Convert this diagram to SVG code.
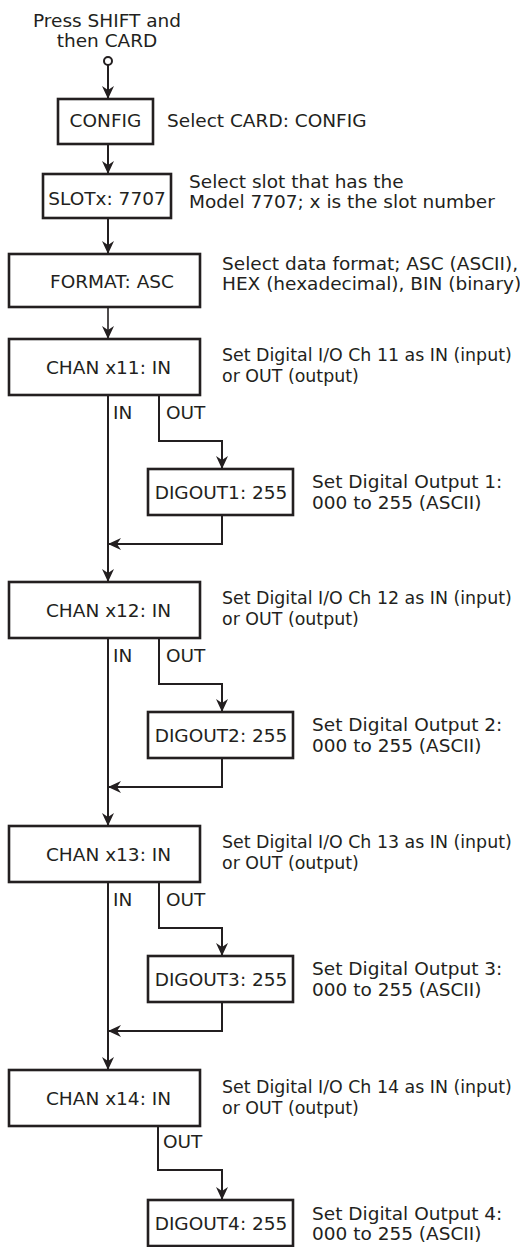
<svg xmlns="http://www.w3.org/2000/svg" width="520" height="1247" viewBox="0 0 520 1247">
<style>
text{font-family:"DejaVu Sans","Liberation Sans",sans-serif;font-size:18.5px;fill:#231f20}
.c{text-anchor:middle}
.s{font-size:17.4px}
.box{fill:#fff;stroke:#231f20;stroke-width:2.6}
.ln{fill:none;stroke:#231f20;stroke-width:2}
.thin{stroke-width:1.6}
</style>
<defs>
<marker id="ah" viewBox="0 0 13 13" refX="13" refY="6.5" markerWidth="13" markerHeight="13" markerUnits="userSpaceOnUse" orient="auto">
<path d="M0,0.5 L13,6.5 L0,12.5 L4,6.5 Z" fill="#231f20"/>
</marker>
</defs>
<rect width="520" height="1247" fill="#fff"/>
<g id="connectors">
<path class="ln" d="M108,65 V99" marker-end="url(#ah)"/>
<path class="ln" d="M108,144 V174" marker-end="url(#ah)"/>
<path class="ln" d="M108,218 V254" marker-end="url(#ah)"/>
<path class="ln thin" d="M108,307 V339" marker-end="url(#ah)"/>
<path class="ln" d="M108,395 V582" marker-end="url(#ah)"/>
<path class="ln" d="M159,395 V441 H222 V469" marker-end="url(#ah)"/>
<path class="ln" d="M222,515 V544 H108" marker-end="url(#ah)"/>
<path class="ln" d="M108,638 V826" marker-end="url(#ah)"/>
<path class="ln" d="M159,638 V684 H222 V712" marker-end="url(#ah)"/>
<path class="ln" d="M222,758 V787 H108" marker-end="url(#ah)"/>
<path class="ln" d="M108,882 V1070" marker-end="url(#ah)"/>
<path class="ln" d="M159,882 V928 H222 V956" marker-end="url(#ah)"/>
<path class="ln" d="M222,1002 V1031 H108" marker-end="url(#ah)"/>
<path class="ln" d="M158,1126 V1170 H222 V1200" marker-end="url(#ah)"/>
<text x="113" y="419">IN</text>
<text x="166" y="419">OUT</text>
<text x="113" y="662">IN</text>
<text x="166" y="662">OUT</text>
<text x="113" y="906">IN</text>
<text x="166" y="906">OUT</text>
<text x="163" y="1148">OUT</text>
</g>
<g id="n-start">
<text class="c" x="107" y="27">Press SHIFT and</text>
<text class="c" x="107" y="47">then CARD</text>
<circle cx="108" cy="61" r="4" fill="#fff" stroke="#231f20" stroke-width="2"/>
</g>
<g id="n-config">
<rect class="box" x="58" y="99" width="95" height="45"/>
<text class="c" x="105.5" y="127">CONFIG</text>
<text x="167" y="127">Select CARD: CONFIG</text>
</g>
<g id="n-slot">
<rect class="box" x="43" y="174" width="128" height="44"/>
<text class="c" x="107" y="205">SLOTx: 7707</text>
<text x="189" y="188">Select slot that has the</text>
<text x="189" y="208">Model 7707; x is the slot number</text>
</g>
<g id="n-format">
<rect class="box" x="9" y="254" width="191" height="53"/>
<text class="c" x="112" y="288">FORMAT: ASC</text>
<text x="222" y="270">Select data format; ASC (ASCII),</text>
<text x="222" y="290">HEX (hexadecimal), BIN (binary)</text>
</g>
<g id="n-chan11">
<rect class="box" x="9" y="339" width="191" height="56"/>
<text class="c" x="108.5" y="374">CHAN x11: IN</text>
<text class="s" x="222" y="361">Set Digital I/O Ch 11 as IN (input)</text>
<text class="s" x="222" y="382">or OUT (output)</text>
</g>
<g id="n-dig1">
<rect class="box" x="148" y="469" width="145" height="46"/>
<text class="c" x="221" y="499">DIGOUT1: 255</text>
<text x="312" y="488">Set Digital Output 1:</text>
<text x="312" y="509">000 to 255 (ASCII)</text>
</g>
<g id="n-chan12">
<rect class="box" x="9" y="582" width="191" height="56"/>
<text class="c" x="108.5" y="617">CHAN x12: IN</text>
<text class="s" x="222" y="604">Set Digital I/O Ch 12 as IN (input)</text>
<text class="s" x="222" y="625">or OUT (output)</text>
</g>
<g id="n-dig2">
<rect class="box" x="148" y="712" width="145" height="46"/>
<text class="c" x="221" y="742">DIGOUT2: 255</text>
<text x="312" y="731">Set Digital Output 2:</text>
<text x="312" y="752">000 to 255 (ASCII)</text>
</g>
<g id="n-chan13">
<rect class="box" x="9" y="826" width="191" height="56"/>
<text class="c" x="108.5" y="861">CHAN x13: IN</text>
<text class="s" x="222" y="848">Set Digital I/O Ch 13 as IN (input)</text>
<text class="s" x="222" y="869">or OUT (output)</text>
</g>
<g id="n-dig3">
<rect class="box" x="148" y="956" width="145" height="46"/>
<text class="c" x="221" y="986">DIGOUT3: 255</text>
<text x="312" y="975">Set Digital Output 3:</text>
<text x="312" y="996">000 to 255 (ASCII)</text>
</g>
<g id="n-chan14">
<rect class="box" x="9" y="1070" width="191" height="56"/>
<text class="c" x="108.5" y="1105">CHAN x14: IN</text>
<text class="s" x="222" y="1093">Set Digital I/O Ch 14 as IN (input)</text>
<text class="s" x="222" y="1114">or OUT (output)</text>
</g>
<g id="n-dig4">
<rect class="box" x="148" y="1200" width="145" height="46"/>
<text class="c" x="221" y="1230">DIGOUT4: 255</text>
<text x="312" y="1220">Set Digital Output 4:</text>
<text x="312" y="1240">000 to 255 (ASCII)</text>
</g>
</svg>
